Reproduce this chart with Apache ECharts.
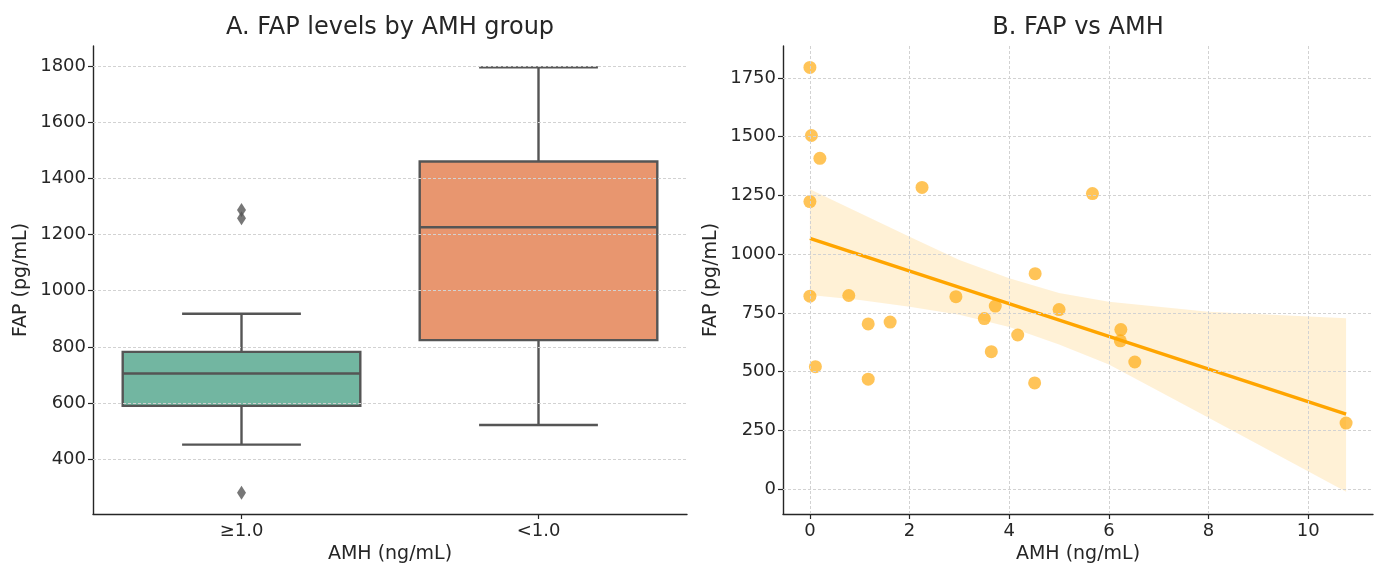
<!DOCTYPE html>
<html>
<head>
<meta charset="utf-8">
<script src="https://cdn.jsdelivr.net/npm/echarts@6/dist/echarts.min.js"></script>
<style>
html, body { margin: 0; padding: 0; background: #fff; }
#main { width: 1378px; height: 563px; }
</style>
</head>
<body>
<div id="main"></div>
<script>
// panel A: box stats (min, q1, median, q3, max)
var groups = ['≥1.0', '<1.0'];
var boxHigh = [452, 590, 705, 782, 918];
var boxLow = [522, 824, 1226, 1460, 1795];
var outliersHigh = [281, 1258, 1287];
var boxColors = ['#72b6a1', '#e8966f'];

// panel B: one point per patient
var amh = [0.0, 0.03, 0.2, 0.0, 2.25, 5.67, 0.0, 0.78, 1.17, 1.61, 0.11, 1.17,
           2.93, 3.5, 3.72, 3.64, 4.17, 4.52, 4.51, 5.0, 6.24, 6.23, 6.52, 10.76];
var fap = [1795, 1505, 1408, 1224, 1284, 1258, 821, 824, 703, 711, 521, 468,
           819, 726, 779, 585, 656, 917, 452, 764, 679, 631, 541, 281];

// fitted line and its confidence band
var fitX = [0, 10.76];
var fitY = [1067, 319];
var ciX = [0, 1, 2, 3, 4, 5, 6, 8, 10.76];
var ciUpper = [1276, 1175, 1074, 975, 897, 835, 797, 755, 727];
var ciLower = [826, 805, 776, 742, 690, 615, 530, 304, -11];

var ticksA = [400, 600, 800, 1000, 1200, 1400, 1600, 1800];
var ticksBy = [0, 250, 500, 750, 1000, 1250, 1500, 1750];
var ticksBx = [0, 2, 4, 6, 8, 10];

var font = 'DejaVu Sans';
var ink = '#262626';
var edge = '#555555';
var gridLine = { type: [3, 2], color: '#d2d2d2', width: 1 };

function boxItem(idx, s) {
	return [idx, s[0], s[1], s[2], s[3], s[4]];
}

function renderBox(params, api) {
	var c = api.value(0);
	var lo = api.coord([c, api.value(1)]);
	var q1 = api.coord([c, api.value(2)]);
	var md = api.coord([c, api.value(3)]);
	var q3 = api.coord([c, api.value(4)]);
	var hi = api.coord([c, api.value(5)]);
	var w = api.size([1, 0])[0] * 0.8;
	var x = lo[0];
	var ls = { stroke: edge, lineWidth: 2.4 };
	return {
		type: 'group',
		children: [
			{ type: 'line', shape: { x1: x, y1: q1[1], x2: x, y2: lo[1] }, style: ls },
			{ type: 'line', shape: { x1: x, y1: q3[1], x2: x, y2: hi[1] }, style: ls },
			{ type: 'line', shape: { x1: x - w / 4, y1: lo[1], x2: x + w / 4, y2: lo[1] }, style: ls },
			{ type: 'line', shape: { x1: x - w / 4, y1: hi[1], x2: x + w / 4, y2: hi[1] }, style: ls },
			{ type: 'rect', shape: { x: x - w / 2, y: q3[1], width: w, height: q1[1] - q3[1] },
			  style: { fill: boxColors[params.dataIndex], stroke: edge, lineWidth: 2.4 } },
			{ type: 'line', shape: { x1: x - w / 2, y1: md[1], x2: x + w / 2, y2: md[1] }, style: ls }
		]
	};
}

function renderBand(params, api) {
	var pts = [];
	for (var i = 0; i < ciX.length; i++) pts.push(api.coord([ciX[i], ciUpper[i]]));
	for (var j = ciX.length - 1; j >= 0; j--) pts.push(api.coord([ciX[j], ciLower[j]]));
	return { type: 'polygon', shape: { points: pts }, style: { fill: 'rgba(255,165,0,0.16)' } };
}

function plain(v) {
	return String(v);
}

function axisBase() {
	return {
		axisLine: { show: true, onZero: false, lineStyle: { color: ink, width: 1.4 } },
		axisTick: { show: true, length: 5, lineStyle: { color: ink, width: 1.2 } },
		axisLabel: { fontFamily: font, fontSize: 18, color: ink },
		nameTextStyle: { fontFamily: font, fontSize: 19, color: ink },
		nameLocation: 'middle',
		splitLine: { show: false }
	};
}

function merge(a, b) {
	for (var k in b) {
		if (a[k] && typeof a[k] === 'object' && !Array.isArray(a[k]) && typeof b[k] === 'object' && !Array.isArray(b[k])) merge(a[k], b[k]);
		else a[k] = b[k];
	}
	return a;
}

var scatterData = [];
for (var i = 0; i < amh.length; i++) scatterData.push([amh[i], fap[i]]);
var fitData = [];
for (var i = 0; i < fitX.length; i++) fitData.push([fitX[i], fitY[i]]);
var outData = outliersHigh.map(function (v) { return [0, v]; });

var el = echarts.init(document.getElementById('main'));
var option = {
	animation: false,
	backgroundColor: '#fff',
	title: [
		{ text: 'A. FAP levels by AMH group', left: 390, top: 16, textAlign: 'center', padding: 0,
		  textStyle: { fontFamily: font, fontSize: 24, fontWeight: 'normal', color: ink } },
		{ text: 'B. FAP vs AMH', left: 1078, top: 16, textAlign: 'center', padding: 0,
		  textStyle: { fontFamily: font, fontSize: 24, fontWeight: 'normal', color: ink } }
	],
	grid: [
		{ left: 93, right: 691, top: 46, bottom: 49, containLabel: false, outerBoundsMode: 'none' },
		{ left: 783, right: 5, top: 46, bottom: 49, containLabel: false, outerBoundsMode: 'none' }
	],
	xAxis: [
		merge(axisBase(), {
			gridIndex: 0, type: 'category', data: groups, name: 'AMH (ng/mL)', nameGap: 31,
			axisTick: { alignWithLabel: true },
			axisLabel: { margin: 8 }
		}),
		merge(axisBase(), {
			gridIndex: 1, type: 'value', min: -0.54, max: 11.3, name: 'AMH (ng/mL)', nameGap: 31,
			axisTick: { customValues: ticksBx },
			axisLabel: { customValues: ticksBx, margin: 8, formatter: plain }
		})
	],
	yAxis: [
		merge(axisBase(), {
			gridIndex: 0, type: 'value', min: 205, max: 1871, name: 'FAP (pg/mL)', nameGap: 62,
			axisTick: { customValues: ticksA },
			axisLabel: { customValues: ticksA, margin: 7, formatter: plain }
		}),
		merge(axisBase(), {
			gridIndex: 1, type: 'value', min: -106, max: 1886, name: 'FAP (pg/mL)', nameGap: 62,
			axisTick: { customValues: ticksBy },
			axisLabel: { customValues: ticksBy, margin: 7, formatter: plain }
		})
	],
	series: [
		{
			type: 'line', xAxisIndex: 0, yAxisIndex: 0, data: [], z: 1,
			markLine: { silent: true, symbol: 'none', label: { show: false }, lineStyle: gridLine,
			            data: ticksA.map(function (v) { return { yAxis: v }; }) }
		},
		{
			type: 'line', xAxisIndex: 1, yAxisIndex: 1, data: [], z: 1,
			markLine: { silent: true, symbol: 'none', label: { show: false }, lineStyle: gridLine,
			            data: ticksBy.map(function (v) { return { yAxis: v }; })
			                  .concat(ticksBx.map(function (v) { return { xAxis: v }; })) }
		},
		{
			type: 'custom', xAxisIndex: 0, yAxisIndex: 0, z: 3,
			renderItem: renderBox,
			encode: { x: 0, y: [1, 2, 3, 4, 5] },
			data: [boxItem(0, boxHigh), boxItem(1, boxLow)]
		},
		{
			type: 'scatter', xAxisIndex: 0, yAxisIndex: 0, z: 3,
			symbol: 'diamond', symbolSize: [9, 14],
			itemStyle: { color: edge },
			data: outData
		},
		{
			type: 'custom', xAxisIndex: 1, yAxisIndex: 1, z: 2,
			renderItem: renderBand, clip: true,
			data: [[0, 0]]
		},
		{
			type: 'scatter', xAxisIndex: 1, yAxisIndex: 1, z: 3,
			symbolSize: 13,
			itemStyle: { color: 'rgba(255,168,10,0.85)' },
			data: scatterData
		},
		{
			type: 'line', xAxisIndex: 1, yAxisIndex: 1, z: 4,
			showSymbol: false, symbol: 'none',
			lineStyle: { color: '#ffa500', width: 3.5 },
			data: fitData
		}
	]
};
el.setOption(option);
</script>
</body>
</html>
